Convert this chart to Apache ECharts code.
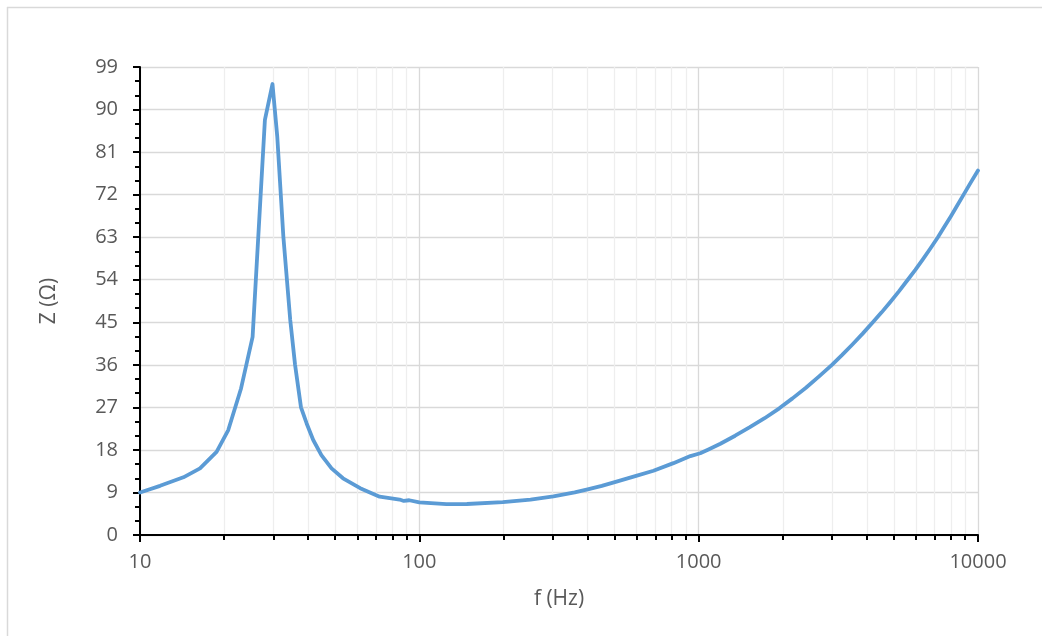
<!DOCTYPE html>
<html>
<head>
<meta charset="utf-8">
<title>Impedance vs frequency</title>
<script src="https://cdn.jsdelivr.net/npm/echarts@6/dist/echarts.min.js"></script>
<style>
  html, body { margin: 0; padding: 0; background: #fff; }
  #chart { width: 1042px; height: 636px; }
</style>
</head>
<body>
<div id="chart"></div>
<script>
// Frequency points (Hz) and measured impedance magnitude (ohm)
const freqHz = [10, 11.8, 14.3, 16.4, 18.8, 20.7, 23.0, 25.3, 28.0, 29.8, 31.0, 32.6, 34.5, 35.9, 37.7,
  39.5, 41.7, 44.6, 48.5, 53.3, 61.4, 72.1, 85, 88, 92, 100, 125, 148, 199, 250, 302, 360, 397, 450,
  508, 597, 689, 812, 934, 1013, 1084, 1196, 1351, 1525, 1722, 1944, 2167, 2415, 2692, 3000, 3264,
  3551, 3864, 4203, 4518, 4854, 5218, 5605, 5965, 6346, 6752, 7185, 7577, 7989, 8426, 8883, 9425, 10000];
const impedance = [9.0, 10.4, 12.2, 14.1, 17.6, 22.2, 31.0, 41.9, 87.8, 95.4, 84.3, 63.1, 45.5, 36.0, 27.0,
  23.6, 20.1, 16.9, 14.1, 12.0, 9.9, 8.1, 7.5, 7.2, 7.35, 6.9, 6.55, 6.56, 6.95, 7.5, 8.15, 9.0, 9.6, 10.4,
  11.3, 12.5, 13.6, 15.2, 16.7, 17.3, 18.1, 19.3, 21.0, 22.8, 24.7, 26.8, 28.9, 31.1, 33.5, 36.0, 38.1,
  40.3, 42.6, 45.0, 47.1, 49.3, 51.6, 54.0, 56.1, 58.3, 60.6, 63.0, 65.2, 67.4, 69.7, 72.0, 74.6, 77.1];

// Axis ranges
const xRange = [10, 10000];
const yRange = [0, 99];
const yStep = 9;

const labelFont = 'Open Sans';
const textGrey = '#595959';

const points = freqHz.map((f, i) => [f, impedance[i]]);

const chart = echarts.init(document.getElementById('chart'), null, { renderer: 'canvas' });
chart.setOption({
  animation: false,
  backgroundColor: '#ffffff',
  graphic: [
    { type: 'line', shape: { x1: 7.5, y1: 7, x2: 7.5, y2: 640 }, style: { stroke: '#d9d9d9', lineWidth: 1.5 }, silent: true },
    { type: 'line', shape: { x1: 7, y1: 7.5, x2: 1050, y2: 7.5 }, style: { stroke: '#d9d9d9', lineWidth: 1.5 }, silent: true }
  ],
  grid: { left: 140, top: 67, width: 838, height: 468, containLabel: false },
  xAxis: {
    type: 'log',
    logBase: 10,
    min: xRange[0],
    max: xRange[1],
    name: 'f (Hz)',
    nameLocation: 'middle',
    nameGap: 54,
    nameTextStyle: { color: textGrey, fontFamily: labelFont, fontSize: 21 },
    axisLine: { show: true, onZero: false, lineStyle: { color: '#000', width: 2 } },
    axisTick: { show: true, length: 7, lineStyle: { color: '#000', width: 2 } },
    minorTick: { show: true, splitNumber: 9, length: 5, lineStyle: { color: '#000', width: 2 } },
    axisLabel: {
      color: textGrey, fontFamily: labelFont, fontSize: 20, margin: 17,
      formatter: v => String(Math.round(v))
    },
    splitLine: { show: true, lineStyle: { color: '#d9d9d9', width: 1.3 } },
    minorSplitLine: { show: true, lineStyle: { color: '#eeeeee', width: 1.3 } }
  },
  yAxis: {
    type: 'value',
    min: yRange[0],
    max: yRange[1],
    interval: yStep,
    name: 'Z (Ω)',
    nameLocation: 'middle',
    nameGap: 80,
    nameRotate: 90,
    nameTextStyle: { color: textGrey, fontFamily: labelFont, fontSize: 21 },
    axisLine: { show: true, lineStyle: { color: '#000', width: 2 } },
    axisTick: { show: true, length: 7, lineStyle: { color: '#000', width: 2 } },
    minorTick: { show: true, splitNumber: 3, length: 5, lineStyle: { color: '#000', width: 2 } },
    axisLabel: { color: textGrey, fontFamily: labelFont, fontSize: 20, margin: 22 },
    splitLine: { show: true, lineStyle: { color: '#d9d9d9', width: 1.3 } }
  },
  series: [{
    type: 'line',
    data: points,
    showSymbol: false,
    symbol: 'none',
    smooth: false,
    lineStyle: { color: '#5b9bd5', width: 3.8, join: 'round', cap: 'round' },
    z: 5
  }]
});
</script>
</body>
</html>
